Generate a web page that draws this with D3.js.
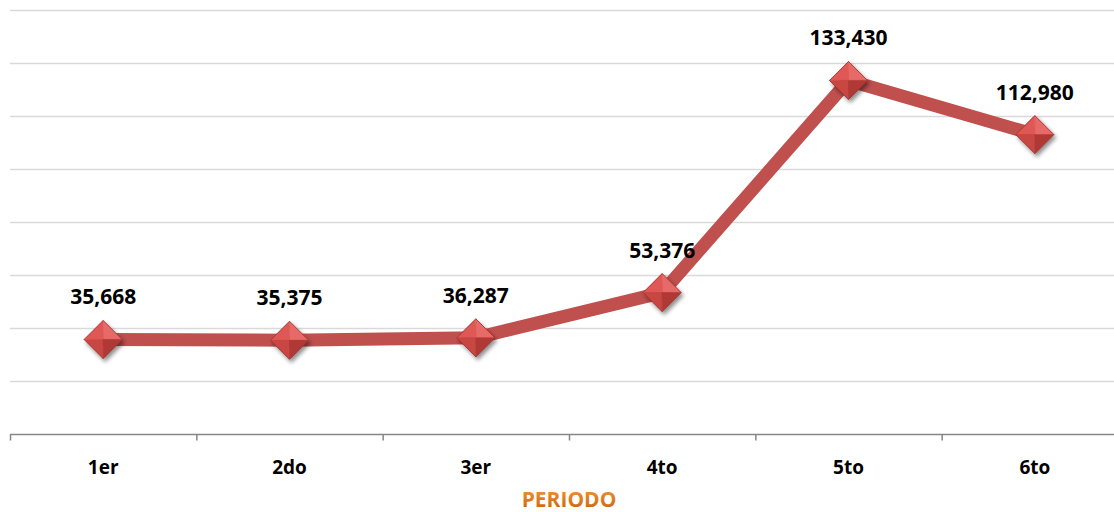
<!DOCTYPE html>
<html>
<head>
<meta charset="utf-8">
<script src="https://cdn.jsdelivr.net/npm/d3@7"></script>
<style>
  body { margin: 0; background: #fff; }
  svg { display: block; }
</style>
</head>
<body>
<script>
const periods = ["1er", "2do", "3er", "4to", "5to", "6to"];
const values = [35668, 35375, 36287, 53376, 133430, 112980];
const yTicks = [0, 20000, 40000, 60000, 80000, 100000, 120000, 140000, 160000];
const axisTitle = "PERIODO";

const width = 1114, height = 512;
const plotLeft = 10, plotRight = 1128, plotTop = 10, plotBottom = 434;

const svg = d3.select("body").append("svg")
    .attr("width", width)
    .attr("height", height);

const defs = svg.append("defs");
const shadow = defs.append("filter").attr("id", "shadow")
    .attr("x", "-50%").attr("y", "-50%").attr("width", "200%").attr("height", "200%");
shadow.append("feGaussianBlur").attr("in", "SourceAlpha").attr("stdDeviation", 2);
shadow.append("feOffset").attr("dx", 2).attr("dy", 3).attr("result", "off");
shadow.append("feComponentTransfer").append("feFuncA").attr("type", "linear").attr("slope", 0.45);
const merge = shadow.append("feMerge");
merge.append("feMergeNode");
merge.append("feMergeNode").attr("in", "SourceGraphic");

const titleGrad = defs.append("linearGradient").attr("id", "titleGrad")
    .attr("x1", 0).attr("y1", 0).attr("x2", 0).attr("y2", 1);
titleGrad.append("stop").attr("offset", "0%").attr("stop-color", "#f39a3c");
titleGrad.append("stop").attr("offset", "100%").attr("stop-color", "#c85f08");

const x = d3.scaleBand().domain(periods).range([plotLeft, plotRight]);
const y = d3.scaleLinear().domain([0, 160000]).range([plotBottom, plotTop]);

// gridlines
svg.append("g")
  .selectAll("line")
  .data(yTicks.slice(1))
  .join("line")
    .attr("x1", plotLeft).attr("x2", width)
    .attr("y1", d => Math.round(y(d)) + 0.5)
    .attr("y2", d => Math.round(y(d)) + 0.5)
    .attr("stroke", "#d9d9d9")
    .attr("stroke-width", 1.5);

// x axis
const xAxis = svg.append("g")
    .attr("transform", `translate(0,${plotBottom + 0.5})`)
    .call(d3.axisBottom(x).tickSize(0).tickPadding(0));
xAxis.select(".domain").remove();
xAxis.append("line")
    .attr("x1", plotLeft).attr("x2", width)
    .attr("stroke", "#868686").attr("stroke-width", 1.5);
xAxis.selectAll(".sep")
  .data(periods.concat(["end"]))
  .join("line")
    .attr("class", "sep")
    .attr("x1", (d, i) => plotLeft + i * x.step() + 0.5)
    .attr("x2", (d, i) => plotLeft + i * x.step() + 0.5)
    .attr("y1", 0).attr("y2", 6)
    .attr("stroke", "#868686").attr("stroke-width", 1.5);
xAxis.selectAll(".tick text")
    .attr("y", 39)
    .attr("dy", 0)
    .attr("fill", "#000")
    .attr("font-family", "'Open Sans', sans-serif")
    .attr("font-weight", "bold")
    .attr("font-size", 19);

svg.append("text")
    .attr("x", (plotLeft + plotRight) / 2)
    .attr("y", 507)
    .attr("text-anchor", "middle")
    .attr("fill", "url(#titleGrad)")
    .attr("font-family", "'Open Sans', sans-serif")
    .attr("font-weight", "bold")
    .attr("font-size", 21)
    .text(axisTitle);

const cx = (d, i) => x(periods[i]) + x.bandwidth() / 2;

// line
const line = d3.line()
    .x((d, i) => cx(d, i))
    .y(d => y(d));

svg.append("path")
    .datum(values)
    .attr("d", line)
    .attr("fill", "none")
    .attr("stroke", "#c0504d")
    .attr("stroke-width", 13)
    .attr("stroke-linejoin", "miter");

// diamond markers, four facets
const r = 19;
const facets = [
  { pts: [[0, -r], [r, 0], [0, 0]], fill: "#e76a67" },
  { pts: [[0, -r], [-r, 0], [0, 0]], fill: "#df5855" },
  { pts: [[-r, 0], [0, r], [0, 0]], fill: "#c84643" },
  { pts: [[r, 0], [0, r], [0, 0]], fill: "#b03936" }
];

const marker = svg.append("g")
  .selectAll("g")
  .data(values)
  .join("g")
    .attr("transform", (d, i) => `translate(${cx(d, i)},${y(d)})`)
    .attr("filter", "url(#shadow)");

marker.selectAll("path")
  .data(facets)
  .join("path")
    .attr("d", f => "M" + f.pts.map(p => p.join(",")).join("L") + "Z")
    .attr("fill", f => f.fill)
    .attr("stroke", f => f.fill)
    .attr("stroke-width", 0.5);

marker.append("path")
    .attr("d", `M0,${-r}L${r},0L0,${r}L${-r},0Z`)
    .attr("fill", "none")
    .attr("stroke", "#9c2f2c")
    .attr("stroke-width", 0.8);

// value labels
svg.append("g")
  .selectAll("text")
  .data(values)
  .join("text")
    .attr("x", (d, i) => cx(d, i))
    .attr("y", d => y(d) - 35)
    .attr("text-anchor", "middle")
    .attr("fill", "#000")
    .attr("font-family", "'Open Sans', sans-serif")
    .attr("font-weight", "bold")
    .attr("font-size", 21)
    .text(d => d3.format(",")(d));
</script>
</body>
</html>
